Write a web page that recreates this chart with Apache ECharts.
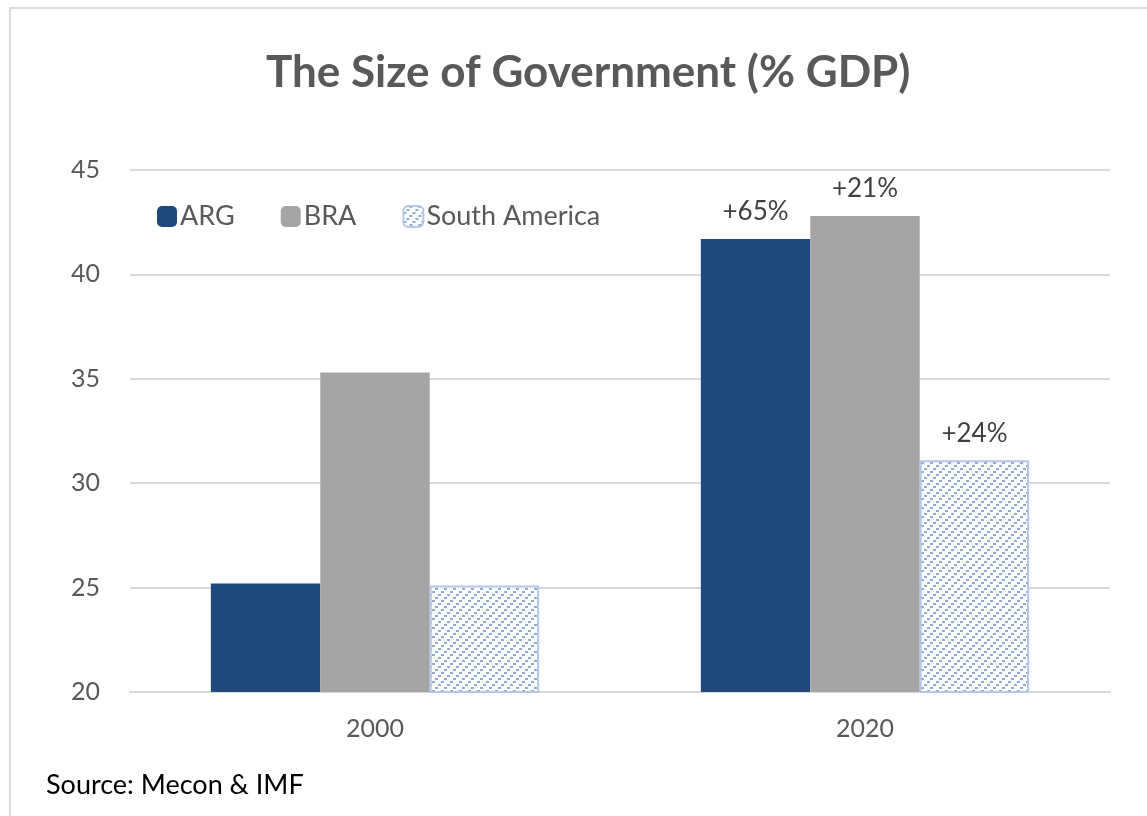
<!DOCTYPE html>
<html>
<head>
<meta charset="utf-8">
<script src="https://cdn.jsdelivr.net/npm/echarts@6/dist/echarts.min.js"></script>
<style>
  html, body { margin: 0; padding: 0; background: #fff; }
  #chart { width: 1147px; height: 816px; }
</style>
</head>
<body>
<div id="chart"></div>
<script>
// Government spending as share of GDP
const years = ['2000', '2020'];
const argValues = [25.2, 41.7];
const braValues = [35.3, 42.8];
const saValues = [25.1, 31.1];
// growth 2000 -> 2020, shown above the 2020 bars
const changeLabels = { ARG: '+65%', BRA: '+21%', 'South America': '+24%' };
const yTicks = [20, 25, 30, 35, 40, 45];

const FONT = 'Lato, "Open Sans", sans-serif';
const TEXT = '#595959';

// light-blue dotted "/" hatch
function makeHatch() {
  const size = 9;
  const c = document.createElement('canvas');
  c.width = size; c.height = size;
  const ctx = c.getContext('2d');
  ctx.fillStyle = '#fff';
  ctx.fillRect(0, 0, size, size);
  ctx.fillStyle = '#8eaadb';
  ctx.fillRect(0, 6, 3, 2);
  ctx.fillRect(3, 3, 3, 2);
  ctx.fillRect(6, 0, 3, 2);
  return c;
}
const hatch = { image: makeHatch(), repeat: 'repeat' };

function changeLabel(name) {
  return {
    show: true,
    position: 'top',
    distance: 14,
    fontFamily: FONT,
    fontSize: 26,
    color: '#404040',
    formatter: p => (p.dataIndex === 1 ? changeLabels[name] : '')
  };
}

const chart = echarts.init(document.getElementById('chart'), null, { renderer: 'canvas' });
chart.setOption({
  animation: false,
  backgroundColor: '#fff',
  title: [
    {
      text: 'The Size of Government (% GDP)',
      left: 261,
      top: 46,
      textStyle: { fontFamily: FONT, fontWeight: 'bold', fontSize: 44, color: TEXT }
    },
    {
      text: 'Source: Mecon & IMF',
      left: 41,
      top: 767,
      textStyle: { fontFamily: FONT, fontWeight: 'normal', fontSize: 27, color: '#000' }
    }
  ],
  graphic: [
    {
      type: 'rect',
      shape: { x: 10, y: 8, width: 1200, height: 900 },
      style: { fill: 'none', stroke: '#d9d9d9', lineWidth: 2 },
      silent: true
    }
  ],
  legend: {
    left: 152,
    top: 198,
    itemWidth: 20,
    itemHeight: 21,
    itemGap: 46,
    textStyle: { fontFamily: FONT, fontSize: 27, color: TEXT, padding: [0, 0, 0, -2] },
    data: ['ARG', 'BRA', 'South America']
  },
  grid: { left: 130, right: 37, top: 170, bottom: 124, containLabel: false },
  xAxis: {
    type: 'category',
    data: years,
    axisLine: { show: true, lineStyle: { color: '#d9d9d9', width: 2 } },
    axisTick: { show: false },
    axisLabel: { fontFamily: FONT, fontSize: 25, color: TEXT, margin: 24 }
  },
  yAxis: {
    type: 'value',
    min: yTicks[0],
    max: yTicks[yTicks.length - 1],
    interval: 5,
    axisLine: { show: false },
    axisTick: { show: false },
    axisLabel: { fontFamily: FONT, fontSize: 25, color: TEXT, margin: 30 },
    splitLine: { lineStyle: { color: '#d9d9d9', width: 2 } }
  },
  series: [
    {
      name: 'ARG',
      type: 'bar',
      data: argValues,
      barGap: '0%',
      barCategoryGap: '33%',
      itemStyle: { color: '#1f497d' },
      label: changeLabel('ARG')
    },
    {
      name: 'BRA',
      type: 'bar',
      data: braValues,
      barGap: '0%',
      barCategoryGap: '33%',
      itemStyle: { color: '#a5a5a5' },
      label: changeLabel('BRA')
    },
    {
      name: 'South America',
      type: 'bar',
      data: saValues,
      barGap: '0%',
      barCategoryGap: '33%',
      itemStyle: { color: hatch, borderColor: '#b4c7e7', borderWidth: 2 },
      label: changeLabel('South America')
    }
  ]
});
</script>
</body>
</html>
